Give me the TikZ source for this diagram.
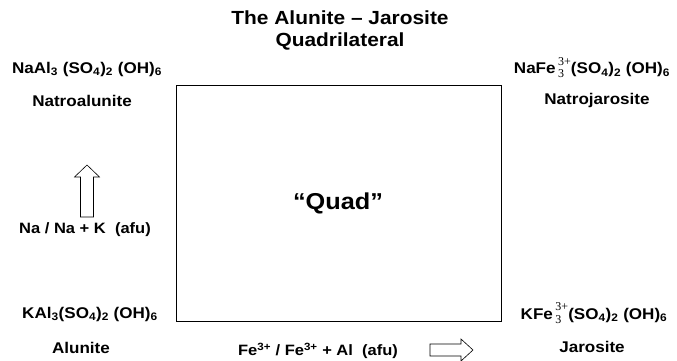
\documentclass[tikz,border=0pt]{standalone}
\usepackage{fontspec}
\setmainfont{Liberation Sans}[FakeStretch=1.1]
\newfontfamily\chargefont{Liberation Serif}
\newcommand{\fechg}{\,\raisebox{-4pt}{\chargefont\mdseries\fontsize{12}{12.5}\selectfont
  \begin{tabular}[b]{@{}l@{}}3+\\3\end{tabular}}}

\begin{document}
\begin{tikzpicture}[x=1pt,y=-1pt,line width=.8pt,
  lbl/.style={font=\fontsize{15.5}{17}\selectfont\bfseries,inner sep=0pt},
  axl/.style={font=\fontsize{15}{17}\selectfont\bfseries,inner sep=0pt},
  ttl/.style={font=\fontsize{19}{21}\selectfont\bfseries,align=center,inner sep=0pt}]
\useasboundingbox (0,0) rectangle (677,361);
\draw (176.5,85.5) rectangle (501,321);
\node[ttl] (title) at (340,30) {The Alunite -- Jarosite\\[1pt]Quadrilateral};
\node[font=\fontsize{23}{25}\selectfont\bfseries] (quad) at (338,203) {``Quad''};
% corners
\node[lbl] (natal) at (87,69) {NaAl\textsubscript{3} (SO\textsubscript{4})\textsubscript{2} (OH)\textsubscript{6}};
\node[lbl] (natalname) at (82,101) {Natroalunite};
\node[lbl,anchor=base] (natjar) at (592,74) {NaFe\fechg(SO\textsubscript{4})\textsubscript{2} (OH)\textsubscript{6}};
\node[lbl] (natjarname) at (597,100) {Natrojarosite};
\node[lbl] (alu) at (90,314) {KAl\textsubscript{3}(SO\textsubscript{4})\textsubscript{2} (OH)\textsubscript{6}};
\node[lbl] (aluname) at (81,348) {Alunite};
\node[lbl,anchor=base] (jar) at (594,319) {KFe\fechg(SO\textsubscript{4})\textsubscript{2} (OH)\textsubscript{6}};
\node[lbl] (jarname) at (592,347) {Jarosite};
% axes
\node[axl] (naaxis) at (85,230) {Na / Na + K\ \ (afu)};
\node[axl] (feaxis) at (318,351) {Fe\textsuperscript{3+} / Fe\textsuperscript{3+} + Al\ \ (afu)};
\draw[line width=.6pt] (80.5,217)--(80.5,177)--(74.5,177)--(87,165)--(99.5,177)--(93.5,177)--(93.5,217)--cycle;
\draw[line width=.6pt] (430,344)--(461,344)--(461,339)--(473,350)--(461,361)--(461,356)--(430,356)--cycle;
\end{tikzpicture}
\end{document}
